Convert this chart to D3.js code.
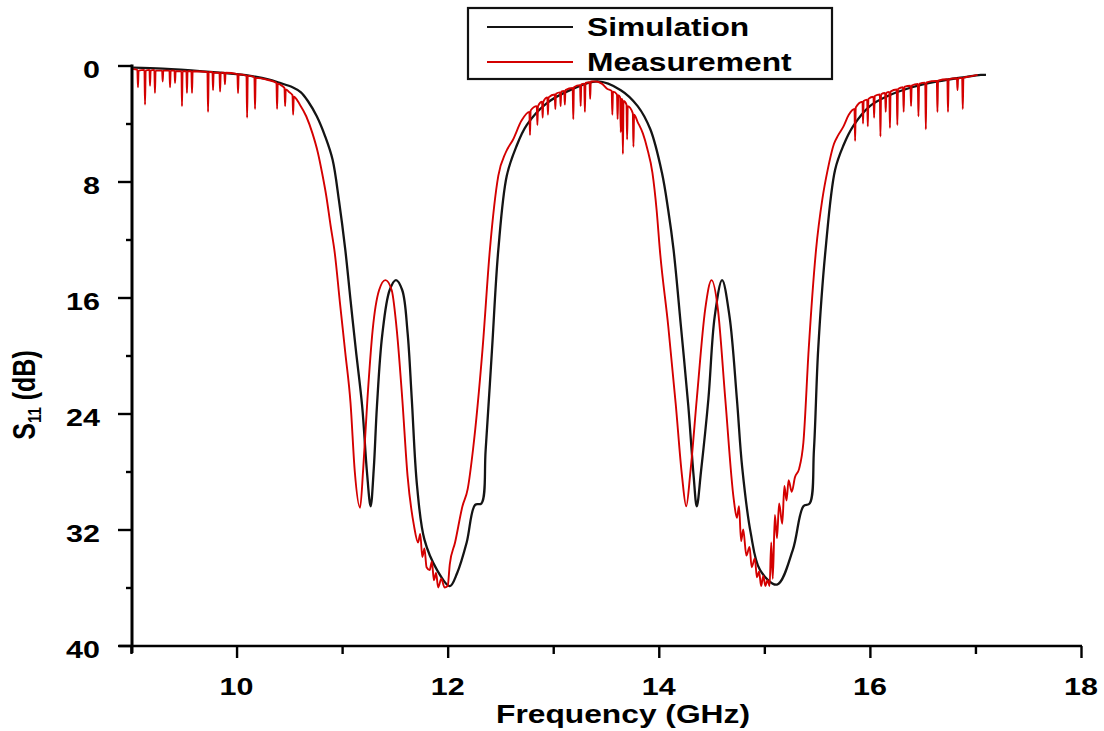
<!DOCTYPE html>
<html>
<head>
<meta charset="utf-8">
<script src="https://cdn.jsdelivr.net/npm/d3@7"></script>
<style>
  html, body { margin: 0; padding: 0; background: #fff; }
  svg { display: block; }
  text { font-family: "Liberation Sans", Arial, sans-serif; font-weight: bold; fill: #000; }
</style>
</head>
<body>
<svg id="chart" width="1104" height="731"></svg>
<script>
// Axis ticks
const xMajorTicks = [10, 12, 14, 16, 18];
const xMinorTicks = [9, 11, 13, 15, 17];
const yMajorTicks = [0, 8, 16, 24, 32, 40];
const yMinorTicks = [4, 12, 20, 28, 36];

// Series names
const seriesNames = ["Simulation", "Measurement"];

// Simulated S11 magnitude: [frequency GHz, dB]
const simulation = [
  [9.02, 0.15], [9.30, 0.22], [9.68, 0.4], [10.00, 0.6], [10.16, 0.75], [10.30, 0.95],
  [10.41, 1.2], [10.53, 1.5], [10.61, 1.85], [10.68, 2.5], [10.76, 3.5], [10.84, 4.9],
  [10.91, 6.5], [10.97, 9.3], [11.03, 12.7], [11.08, 16.2], [11.13, 19.6], [11.19, 23.5],
  [11.235, 28.0], [11.27, 30.4], [11.30, 27.8], [11.33, 23.5], [11.38, 18.6], [11.45, 15.5],
  [11.51, 14.8], [11.57, 15.5], [11.62, 18.4], [11.66, 23.0], [11.71, 29.0], [11.78, 32.7],
  [11.90, 34.8], [12.02, 35.9], [12.09, 35.0], [12.18, 32.9], [12.26, 30.3], [12.32, 30.2],
  [12.36, 26.5], [12.42, 19.6], [12.48, 12.7], [12.56, 7.6], [12.65, 5.6], [12.75, 4.1],
  [12.94, 2.6], [13.16, 1.7], [13.42, 1.1], [13.64, 1.7], [13.80, 2.8], [13.92, 4.4],
  [14.03, 7.4], [14.09, 10.0], [14.14, 12.7], [14.21, 18.0], [14.28, 23.5], [14.33, 28.3],
  [14.36, 30.4], [14.40, 28.0], [14.47, 23.0], [14.53, 17.3], [14.60, 14.8], [14.67, 17.3],
  [14.74, 23.0], [14.79, 27.7], [14.87, 32.2], [14.96, 34.8], [15.12, 35.8], [15.27, 33.4],
  [15.37, 30.4], [15.43, 30.2], [15.47, 26.5], [15.51, 19.6], [15.58, 12.7], [15.67, 7.2],
  [15.75, 5.5], [15.84, 4.2], [16.00, 2.8], [16.17, 2.1], [16.40, 1.5], [16.64, 1.1],
  [16.90, 0.8], [17.05, 0.65], [17.10, 0.65]
];

// Measured S11 magnitude: [frequency GHz, dB]
const measurement = [
  [9.02, 0.25],
  [9.060, 0.3], [9.066, 1.5], [9.072, 0.35],
  [9.127, 0.3], [9.133, 2.7], [9.139, 0.35],
  [9.175, 0.3], [9.180, 1.4], [9.186, 0.35],
  [9.221, 0.3], [9.227, 1.9], [9.233, 0.35],
  [9.295, 0.35], [9.300, 1.1], [9.306, 0.35],
  [9.364, 0.35], [9.370, 1.5], [9.376, 0.35],
  [9.412, 0.35], [9.417, 1.2], [9.423, 0.4],
  [9.478, 0.4], [9.483, 2.8], [9.489, 0.4],
  [9.525, 0.4], [9.530, 1.9], [9.536, 0.4],
  [9.572, 0.4], [9.578, 1.9], [9.584, 0.4],
  [9.724, 0.45], [9.730, 3.2], [9.736, 0.45],
  [9.772, 0.45], [9.777, 1.7], [9.783, 0.5],
  [9.838, 0.5], [9.844, 1.8], [9.850, 0.5],
  [9.884, 0.5], [9.890, 1.3], [9.896, 0.5],
  [10.008, 0.6], [10.014, 1.9], [10.020, 0.6],
  [10.094, 0.7], [10.100, 3.6], [10.106, 0.7],
  [10.169, 0.8], [10.175, 3.0], [10.181, 0.85],
  [10.30, 1.0],
  [10.378, 1.2], [10.384, 3.0], [10.390, 1.25],
  [10.42, 1.35],
  [10.454, 1.55], [10.460, 2.8], [10.466, 1.65],
  [10.50, 1.85],
  [10.530, 2.05], [10.536, 3.4], [10.542, 2.15],
  [10.60, 2.7], [10.66, 3.5], [10.72, 4.7], [10.77, 6.0], [10.81, 7.4], [10.85, 9.0],
  [10.89, 11.0], [10.93, 12.9], [10.98, 16.4], [11.03, 19.8], [11.08, 23.3], [11.12, 28.0],
  [11.17, 30.5], [11.20, 27.8], [11.24, 23.0], [11.29, 18.2], [11.35, 15.5], [11.41, 14.8],
  [11.47, 15.5], [11.52, 18.4], [11.57, 23.0], [11.62, 28.3], [11.68, 31.7], [11.72, 32.9],
  [11.74, 32.3], [11.76, 33.9], [11.78, 33.3], [11.80, 34.6], [11.83, 34.8], [11.85, 34.2],
  [11.87, 35.5], [11.89, 35.0], [11.91, 36.0], [11.94, 35.4], [11.97, 36.0], [12.00, 35.9],
  [12.02, 34.4], [12.07, 32.9], [12.14, 30.4], [12.19, 29.2], [12.24, 26.5], [12.33, 19.6],
  [12.40, 12.7], [12.48, 7.6], [12.55, 6.0], [12.62, 5.1], [12.70, 3.8],
  [12.774, 3.2], [12.780, 4.8], [12.786, 3.1],
  [12.844, 2.8], [12.850, 4.1], [12.856, 2.8],
  [12.894, 2.5], [12.900, 3.6], [12.906, 2.5],
  [12.944, 2.2], [12.950, 3.4], [12.956, 2.2],
  [13.014, 2.0], [13.020, 3.0], [13.026, 1.95],
  [13.064, 1.85], [13.070, 2.8], [13.076, 1.8],
  [13.104, 1.75], [13.110, 2.7], [13.116, 1.7],
  [13.184, 1.55], [13.190, 3.7], [13.196, 1.5],
  [13.254, 1.35], [13.260, 2.8], [13.266, 1.3],
  [13.294, 1.25], [13.300, 3.2], [13.306, 1.2],
  [13.344, 1.15], [13.350, 2.3], [13.356, 1.1],
  [13.40, 1.1], [13.46, 1.25], [13.51, 1.6],
  [13.554, 1.75], [13.560, 3.4], [13.566, 1.8],
  [13.604, 2.0], [13.610, 3.7], [13.616, 2.05],
  [13.634, 2.2], [13.640, 4.6], [13.646, 2.3],
  [13.654, 2.35], [13.660, 6.1], [13.666, 2.45],
  [13.694, 2.7], [13.700, 5.1], [13.706, 2.8],
  [13.754, 3.3], [13.760, 5.6], [13.766, 3.4],
  [13.80, 3.9], [13.85, 4.7], [13.89, 5.7], [13.94, 7.4], [13.98, 10.0], [14.01, 12.7],
  [14.09, 18.0], [14.16, 23.3], [14.22, 28.3], [14.26, 30.4], [14.30, 28.0], [14.36, 23.0],
  [14.44, 16.8], [14.50, 14.8], [14.56, 16.8], [14.63, 23.0], [14.71, 29.9], [14.74, 31.2],
  [14.76, 30.4], [14.78, 32.8], [14.80, 32.0], [14.83, 33.8], [14.86, 33.2], [14.88, 34.6],
  [14.91, 34.0], [14.93, 35.3], [14.95, 34.9], [14.97, 35.9], [14.99, 35.2], [15.01, 35.9],
  [15.03, 35.5], [15.05, 35.9], [15.065, 32.9], [15.08, 35.4], [15.10, 31.0], [15.12, 32.6],
  [15.14, 30.2], [15.17, 31.6], [15.19, 29.0], [15.21, 30.0], [15.23, 28.6], [15.26, 29.4],
  [15.29, 28.4], [15.33, 27.8], [15.37, 26.0], [15.42, 19.6], [15.49, 12.7], [15.55, 9.2],
  [15.60, 7.2], [15.66, 5.4], [15.70, 4.8], [15.75, 4.2], [15.80, 3.4],
  [15.854, 3.0], [15.860, 5.2], [15.866, 2.9],
  [15.930, 2.5], [15.935, 4.0], [15.941, 2.45],
  [15.974, 2.35], [15.980, 4.2], [15.986, 2.3],
  [16.034, 2.15], [16.040, 3.6], [16.046, 2.1],
  [16.094, 2.0], [16.100, 4.9], [16.106, 1.98],
  [16.144, 1.9], [16.150, 3.2], [16.156, 1.88],
  [16.184, 1.82], [16.190, 4.3], [16.196, 1.8],
  [16.254, 1.65], [16.260, 4.1], [16.266, 1.62],
  [16.314, 1.5], [16.320, 3.2], [16.326, 1.48],
  [16.384, 1.4], [16.390, 2.8], [16.396, 1.38],
  [16.454, 1.28], [16.460, 3.5], [16.466, 1.26],
  [16.524, 1.18], [16.530, 4.4], [16.536, 1.16],
  [16.634, 1.06], [16.640, 3.2], [16.646, 1.05],
  [16.734, 0.95], [16.740, 3.2], [16.746, 0.94],
  [16.824, 0.88], [16.830, 1.7], [16.836, 0.87],
  [16.874, 0.85], [16.880, 3.0], [16.886, 0.84],
  [16.95, 0.75], [17.02, 0.65]
];

const svg = d3.select("#chart");
const SX = 1.27; // horizontal stretch of all lettering

const x = d3.scaleLinear().domain([9, 18]).range([131, 1081]);
const y = d3.scaleLinear().domain([0, 40]).range([65.5, 645.5]);

// Curves: smooth spline for the simulated trace, shape-preserving for the spiky measured one
const simLine = d3.line()
  .x(d => x(d[0]))
  .y(d => y(d[1]))
  .curve(d3.curveCatmullRom.alpha(0.5));
const measLine = d3.line()
  .x(d => x(d[0]))
  .y(d => y(d[1]))
  .curve(d3.curveMonotoneX);

svg.append("path")
  .datum(simulation)
  .attr("d", simLine)
  .attr("fill", "none")
  .attr("stroke", "#141414")
  .attr("stroke-width", 2.3)
  .attr("stroke-linejoin", "round");

svg.append("path")
  .datum(measurement)
  .attr("d", measLine)
  .attr("fill", "none")
  .attr("stroke", "#d40000")
  .attr("stroke-width", 1.9)
  .attr("stroke-linejoin", "round");

// Axes
const axisG = svg.append("g");
function styleAxis(g) {
  g.selectAll("text").remove();
  g.select(".domain").remove();
  g.selectAll("line").attr("stroke", "#000").attr("stroke-width", 2.4);
}

axisG.append("g")
  .attr("transform", "translate(132,0)")
  .call(d3.axisLeft(y).tickValues(yMajorTicks).tickSize(14).tickSizeOuter(0))
  .call(styleAxis);
axisG.append("g")
  .attr("transform", "translate(132,0)")
  .call(d3.axisLeft(y).tickValues(yMinorTicks).tickSize(6).tickSizeOuter(0))
  .call(styleAxis);
axisG.append("g")
  .attr("transform", "translate(0,646)")
  .call(d3.axisBottom(x).tickValues(xMajorTicks).tickSize(12).tickSizeOuter(0))
  .call(styleAxis);
axisG.append("g")
  .attr("transform", "translate(0,646)")
  .call(d3.axisBottom(x).tickValues(xMinorTicks).tickSize(8).tickSizeOuter(0))
  .call(styleAxis);

// Axis lines
axisG.append("line")
  .attr("x1", 132).attr("x2", 132).attr("y1", y(0) - 1).attr("y2", 653)
  .attr("stroke", "#000").attr("stroke-width", 3);
axisG.append("line")
  .attr("x1", 119).attr("x2", x(18) + 1).attr("y1", 646).attr("y2", 646)
  .attr("stroke", "#000").attr("stroke-width", 2.6);

function label(px, py, txt, anchor, size) {
  return svg.append("text")
    .attr("transform", `translate(${px},${py}) scale(${SX},1)`)
    .attr("text-anchor", anchor)
    .attr("font-size", size)
    .text(txt);
}

// Tick labels
yMajorTicks.forEach(v => label(100, y(v) + 12, v, "end", 24));
xMajorTicks.forEach(v => label(x(v), 695, v, "middle", 24));

// Axis titles
label(623, 723, "Frequency (GHz)", "middle", 25);

const yTitle = svg.append("text")
  .attr("transform", `translate(35,395) scale(${SX},1) rotate(-90)`)
  .attr("text-anchor", "middle")
  .attr("font-size", 25);
yTitle.append("tspan").text("S");
yTitle.append("tspan").attr("font-size", 15).attr("dy", 5).text("11");
yTitle.append("tspan").attr("dy", -5).text(" (dB)");

// Legend
const legend = svg.append("g");
legend.append("rect")
  .attr("x", 468).attr("y", 8).attr("width", 364).attr("height", 71)
  .attr("fill", "#fff").attr("stroke", "#111").attr("stroke-width", 2.2);
const legendColors = ["#141414", "#d40000"];
seriesNames.forEach((name, i) => {
  const ly = 27 + i * 35;
  legend.append("line")
    .attr("x1", 487).attr("x2", 573).attr("y1", ly).attr("y2", ly)
    .attr("stroke", legendColors[i]).attr("stroke-width", 2.2);
  label(587, ly + 9, name, "start", 25);
});
</script>
</body>
</html>
